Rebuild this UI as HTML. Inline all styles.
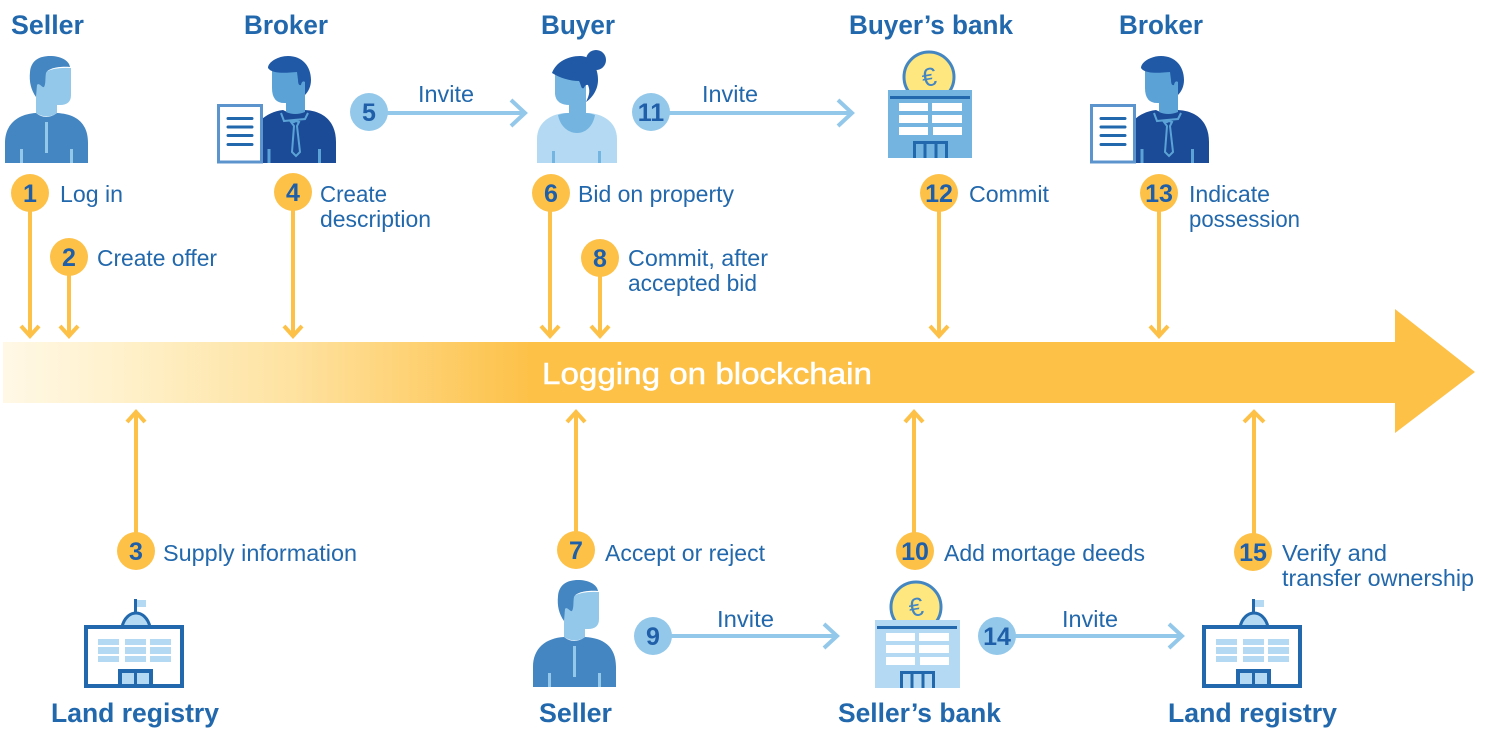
<!DOCTYPE html>
<html><head><meta charset="utf-8"><style>
html,body{margin:0;padding:0;background:#fff}
svg{display:block}
text{font-family:"Liberation Sans",sans-serif;fill:#2268ac}
.l{font-size:23px}
.t{font-size:27px;font-weight:bold}
.n{font-size:25px;font-weight:bold;text-anchor:middle;fill:#1f5ea8}
.y{stroke:#fdc148;stroke-width:4;fill:none}
.b{stroke:#93c8ea;stroke-width:4;fill:none}
</style></head><body>
<svg width="1485" height="746" viewBox="0 0 1485 746" xmlns="http://www.w3.org/2000/svg">
<defs>
<linearGradient id="g" gradientUnits="userSpaceOnUse" x1="3" y1="0" x2="530" y2="0">
<stop offset="0" stop-color="#fff8e6"/><stop offset=".25" stop-color="#fff0c8"/><stop offset=".55" stop-color="#fee2a0"/><stop offset="1" stop-color="#fdc148"/>
</linearGradient>
<g id="seller">
<path d="M5 163V143C5 124 18 114 36 113q10 8 21 0c18 1 31 9 31 30v20z" fill="#4486c2"/>
<path d="M36 84L45 72Q55 67 71 68V95Q71 105 60 105H57V113Q47 120 36 113z" fill="#93c8ea"/>
<path d="M70 67C60 66 48 68 46 73 45 78 46 84 44 87 42 88 39 82 37 85L36 97C31 90 29 82 30 72 31 60 40 56 50 56 60 56 69 60 70 67z" fill="#4486c2"/>
<rect x="45" y="122" width="3" height="31" fill="#93c8ea"/>
<rect x="20" y="149" width="3" height="14" fill="#93c8ea"/><rect x="70" y="149" width="3" height="14" fill="#93c8ea"/>
</g>
<g id="broker">
<path d="M261 163V120c5-5 13-9 22-10q11 6 22 0c19 1 31 12 31 32v21z" fill="#1b4b97"/>
<path d="M272 70H305V112Q295 116 286 112V103Q272 104 272 88z" fill="#5ba3d6"/>
<path d="M268 68C268 62 278 56 288 56 302 56 311 66 311 80 311 87 308 92 305 95V82Q302 80 301 85 298 86 298 80L297 72C285 73 272 74 268 68z" fill="#2059a5"/>
<path d="M281 113l3 8 10-1 11-1 3-6M291 122l3 0 2-1 3 1-2 4 3 26-4 4-4-4 2-26z" fill="none" stroke="#5ba3d6" stroke-width="2"/>
<rect x="267.500" y="149" width="3" height="14" fill="#5ba3d6"/><rect x="318" y="149" width="3" height="14" fill="#5ba3d6"/>
<rect x="218.500" y="105.500" width="43" height="56.500" fill="#fff" stroke="#5c94cd" stroke-width="3"/>
<path d="M228 118.500h24M228 127h24M228 135.500h24M228 144.500h24" stroke="#2268ac" stroke-width="3" stroke-linecap="round"/>
</g>
<g id="bankInner">
<circle cx="929" cy="77" r="25" fill="#fee77e" stroke="#4486c2" stroke-width="3"/>
<text x="929" y="86" transform="rotate(-10 929 77)" style="font-size:26px;text-anchor:middle;fill:#4486c2">€</text>
</g>
<g id="bankDetails">
<path d="M890 97.500h80" stroke="#2268ac" stroke-width="3"/>
<path d="M899 103h29v8h-29zM932 103h30v8h-30zM899 115h29v8h-29zM932 115h30v8h-30zM899 127h29v8h-29zM933 127h29v8h-29z" fill="#fff"/>
<path d="M914.500 158v-15.500h32V158M925 143v15M936 143v15" fill="none" stroke="#2268ac" stroke-width="3"/>
</g>
<g id="reg">
<path d="M122 627c2-9 8-14 14-14s12 5 14 14z" fill="#b3daf2" stroke="#2268ac" stroke-width="3"/>
<rect x="134" y="599" width="3" height="14" fill="#2268ac"/><rect x="137" y="600" width="9" height="7" fill="#b3daf2"/>
<rect x="86" y="627" width="96" height="59" fill="#fff" stroke="#2268ac" stroke-width="4"/>
<path d="M98 639h21v6H98zM125 639h21v6h-21zM150 639h21v6h-21zM98 647h21v7H98zM125 647h21v7h-21zM150 647h21v7h-21zM98 656h21v6H98zM125 656h21v6h-21zM150 656h21v6h-21z" fill="#b3daf2"/>
<rect x="120" y="671" width="31" height="15" fill="#b3daf2" stroke="#2268ac" stroke-width="4"/><path d="M135.500 670v15" stroke="#2268ac" stroke-width="3"/>
</g>
</defs>

<!-- band -->
<path d="M3 342H1395V309L1475 372 1395 433V403H3z" fill="url(#g)"/>
<text x="542" y="384" style="font-size:31px;fill:#fff;stroke:#fff;stroke-width:.5" textLength="330" lengthAdjust="spacingAndGlyphs">Logging on blockchain</text>

<!-- yellow connectors -->
<g class="y">
<path d="M30 195V336M21 326l9 10 9-10"/>
<path d="M69 258V336M60 326l9 10 9-10"/>
<path d="M293 192V336M284 326l9 10 9-10"/>
<path d="M550 192V336M541 326l9 10 9-10"/>
<path d="M600 258V336M591 326l9 10 9-10"/>
<path d="M939 192V336M930 326l9 10 9-10"/>
<path d="M1159 192V336M1150 326l9 10 9-10"/>
<path d="M136 550V412M127 422l9-10 9 10"/>
<path d="M576 550V412M567 422l9-10 9 10"/>
<path d="M914 550V412M905 422l9-10 9 10"/>
<path d="M1254 550V412M1244 422l10-10 10 10"/>
</g>
<!-- blue connectors -->
<g class="b">
<path d="M369 113H524M511 100l14 13-14 13"/>
<path d="M651 113H852M838 100l14 13-14 13"/>
<path d="M653 636H836M824 624l13 12-13 12"/>
<path d="M997 636H1181M1169 624l13 12-13 12"/>
</g>

<!-- icons -->
<use href="#seller"/>
<use href="#seller" x="528" y="524"/>
<use href="#broker"/>
<use href="#broker" x="873"/>

<!-- buyer -->
<path d="M537 163v-24c0-15 11-24 27-26h26c16 2 27 11 27 26v24z" fill="#b3daf2"/>
<path d="M558 115c2 11 10 18 19 18s16-7 18-18c-3-1-6-2-9-2H569c-4 0-8 1-11 2z" fill="#74b4e0"/>
<rect x="569" y="95" width="17" height="20" fill="#74b4e0"/>
<path d="M555 73V94Q556 105 570 105H586V75z" fill="#74b4e0"/>
<path d="M552 73C556 62 568 56 580 56 592 56 598 68 598 80 598 90 592 98 586 102 590 94 590 90 588 85 585 84 584 88 584 88 581 90 581 84 579 81 570 81 560 78 552 73z" fill="#2059a5"/>
<circle cx="596" cy="60" r="10" fill="#2059a5"/>
<rect x="552" y="151" width="3" height="12" fill="#74b4e0"/><rect x="598" y="151" width="3" height="12" fill="#74b4e0"/>

<!-- buyer's bank -->
<use href="#bankInner"/>
<rect x="888" y="90" width="84" height="68" fill="#74b4e0"/>
<use href="#bankDetails"/>
<!-- seller's bank -->
<use href="#bankInner" x="-13" y="530"/>
<rect x="875" y="620" width="85" height="68" fill="#b3daf2"/>
<use href="#bankDetails" x="-13" y="530"/>

<use href="#reg"/>
<use href="#reg" x="1118"/>

<!-- number circles -->
<g fill="#fdc148">
<circle cx="30" cy="193" r="19"/><circle cx="69" cy="257" r="19"/><circle cx="293" cy="192" r="19"/>
<circle cx="551" cy="193" r="19"/><circle cx="600" cy="258" r="19"/><circle cx="939" cy="193" r="19"/>
<circle cx="1159" cy="193" r="19"/><circle cx="136" cy="551" r="19"/><circle cx="576" cy="550" r="19"/>
<circle cx="915" cy="551" r="19"/><circle cx="1253" cy="552" r="19"/>
</g>
<g fill="#93c8ea">
<circle cx="369" cy="112" r="19"/><circle cx="651" cy="112" r="19"/><circle cx="653" cy="636" r="19"/><circle cx="997" cy="636" r="19"/>
</g>
<text class="n" x="30" y="202">1</text><text class="n" x="69" y="266">2</text><text class="n" x="136" y="560">3</text>
<text class="n" x="293" y="201">4</text><text class="n" x="369" y="121">5</text><text class="n" x="551" y="202">6</text>
<text class="n" x="576" y="559">7</text><text class="n" x="600" y="267">8</text><text class="n" x="653" y="645">9</text>
<text class="n" x="915" y="560">10</text><text class="n" x="651" y="121">11</text><text class="n" x="939" y="202">12</text>
<text class="n" x="1159" y="202">13</text><text class="n" x="997" y="645">14</text><text class="n" x="1253" y="561">15</text>

<!-- titles -->
<text class="t" x="11" y="34" textLength="73" lengthAdjust="spacingAndGlyphs">Seller</text>
<text class="t" x="244" y="34" textLength="84" lengthAdjust="spacingAndGlyphs">Broker</text>
<text class="t" x="541" y="34" textLength="74" lengthAdjust="spacingAndGlyphs">Buyer</text>
<text class="t" x="849" y="34" textLength="164" lengthAdjust="spacingAndGlyphs">Buyer’s bank</text>
<text class="t" x="1119" y="34" textLength="84" lengthAdjust="spacingAndGlyphs">Broker</text>
<text class="t" x="51" y="722" textLength="168" lengthAdjust="spacingAndGlyphs">Land registry</text>
<text class="t" x="539" y="722" textLength="73" lengthAdjust="spacingAndGlyphs">Seller</text>
<text class="t" x="838" y="722" textLength="163" lengthAdjust="spacingAndGlyphs">Seller’s bank</text>
<text class="t" x="1168" y="722" textLength="169" lengthAdjust="spacingAndGlyphs">Land registry</text>

<!-- labels -->
<text class="l" x="60" y="202" textLength="63" lengthAdjust="spacingAndGlyphs">Log in</text>
<text class="l" x="97" y="266" textLength="120" lengthAdjust="spacingAndGlyphs">Create offer</text>
<text class="l" x="163" y="561" textLength="194" lengthAdjust="spacingAndGlyphs">Supply information</text>
<text class="l" x="320" y="202" textLength="67" lengthAdjust="spacingAndGlyphs">Create</text>
<text class="l" x="320" y="227" textLength="111" lengthAdjust="spacingAndGlyphs">description</text>
<text class="l" x="418" y="102" textLength="56" lengthAdjust="spacingAndGlyphs">Invite</text>
<text class="l" x="578" y="202" textLength="156" lengthAdjust="spacingAndGlyphs">Bid on property</text>
<text class="l" x="605" y="561" textLength="160" lengthAdjust="spacingAndGlyphs">Accept or reject</text>
<text class="l" x="628" y="266" textLength="140" lengthAdjust="spacingAndGlyphs">Commit, after</text>
<text class="l" x="628" y="291" textLength="129" lengthAdjust="spacingAndGlyphs">accepted bid</text>
<text class="l" x="717" y="627" textLength="57" lengthAdjust="spacingAndGlyphs">Invite</text>
<text class="l" x="944" y="561" textLength="201" lengthAdjust="spacingAndGlyphs">Add mortage deeds</text>
<text class="l" x="702" y="102" textLength="56" lengthAdjust="spacingAndGlyphs">Invite</text>
<text class="l" x="969" y="202" textLength="80" lengthAdjust="spacingAndGlyphs">Commit</text>
<text class="l" x="1189" y="202" textLength="81" lengthAdjust="spacingAndGlyphs">Indicate</text>
<text class="l" x="1189" y="227" textLength="111" lengthAdjust="spacingAndGlyphs">possession</text>
<text class="l" x="1062" y="627" textLength="56" lengthAdjust="spacingAndGlyphs">Invite</text>
<text class="l" x="1282" y="561" textLength="105" lengthAdjust="spacingAndGlyphs">Verify and</text>
<text class="l" x="1282" y="586" textLength="192" lengthAdjust="spacingAndGlyphs">transfer ownership</text>
</svg>
</body></html>
